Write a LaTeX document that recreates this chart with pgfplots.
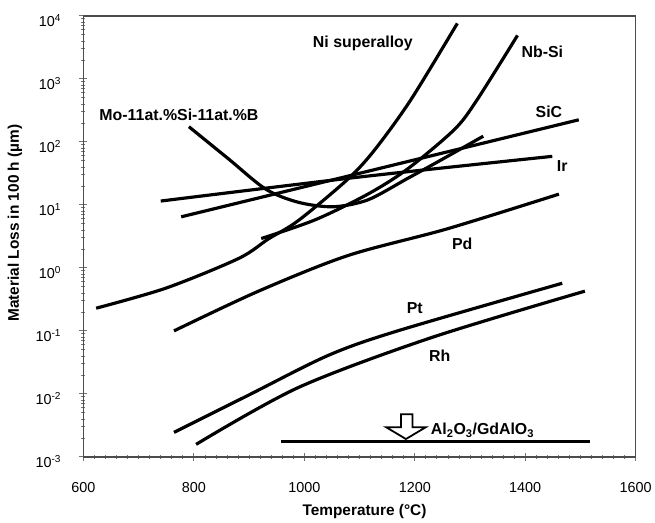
\documentclass[border=0pt]{standalone}
\usepackage{fontspec}
\setmainfont{Liberation Sans}
\usepackage{pgfplots}
\pgfplotsset{compat=1.18}

\begin{document}
\begin{tikzpicture}
\begin{axis}[
    width=556pt, height=444pt, scale only axis,
    xmin=600, xmax=1600,
    ymode=log, ymin=1e-3, ymax=1e4,
    xtick={600,800,1000,1200,1400,1600},
    xticklabels={600,800,1000,1200,1400,1600},
    minor x tick num=9,
    ytick={1e-3,1e-2,1e-1,1,10,100,1000,10000},
    yticklabels={10\textsuperscript{-3},10\textsuperscript{-2},10\textsuperscript{-1},10\textsuperscript{0},
                 10\textsuperscript{1},10\textsuperscript{2},10\textsuperscript{3},10\textsuperscript{4}},
    minor ytick={0.002,0.003,0.004,0.005,0.006,0.007,0.008,0.009,
                 0.02,0.03,0.04,0.05,0.06,0.07,0.08,0.09,
                 0.2,0.3,0.4,0.5,0.6,0.7,0.8,0.9,
                 2,3,4,5,6,7,8,9,
                 20,30,40,50,60,70,80,90,
                 200,300,400,500,600,700,800,900,
                 2000,3000,4000,5000,6000,7000,8000,9000},
    xtick pos=bottom, ytick pos=left,
    tick align=center,
    major tick length=8pt, minor tick length=4pt,
    axis line style={black!70, line width=1.4pt},
    every tick/.style={black!55, line width=0.8pt},
    tick label style={font=\fontsize{14.5}{16}\selectfont},
    xticklabel style={yshift=-18pt},
    yticklabel style={xshift=-15pt, yshift=-5pt},
    xlabel={Temperature (°C)},
    ylabel={Material Loss in 100 h (µm)},
    label style={font=\fontsize{15.5}{18}\selectfont\bfseries},
    xlabel style={at={(axis description cs:0.509,-0.125)}, anchor=center},
    ylabel style={at={(axis description cs:-0.124,0.53)}, anchor=center},
    clip=false,
]
% Ni superalloy
\addplot[black, line width=3.2pt, smooth] coordinates {
    (623,0.229) (750,0.479) (881,1.41) (935,2.88) (989,5.62)
    (1079,25.7) (1128,75.9) (1193,468) (1277,7586)};
% Nb-Si
\addplot[black, line width=3.2pt, smooth] coordinates {
    (922,2.92) (1020,5.81) (1115,14.8) (1187,37.2) (1272,158)
    (1313,468) (1386,4898)};
% Mo-11at.%Si-11at.%B
\addplot[black, line width=3.2pt, smooth] coordinates {
    (791,174) (863,53.4) (930,17.8) (989,11.0) (1052,9.33)
    (1115,12.0) (1187,26.3) (1241,47.9) (1324,123)};
% SiC
\addplot[black, line width=3.2pt] coordinates {(777,6.46) (1497,224)};
% Ir
\addplot[black, line width=3.2pt, smooth] coordinates {(740,11.5) (1097,27.5) (1449,58.9)};
% Pd
\addplot[black, line width=3.2pt, smooth] coordinates {
    (764,0.1) (917,0.427) (1079,1.57) (1259,4.17) (1461,14.8)};
% Pt
\addplot[black, line width=3.2pt, smooth] coordinates {
    (764,0.00245) (899,0.00955) (1043,0.0407) (1169,0.1) (1467,0.570)};
% Rh
\addplot[black, line width=3.2pt, smooth] coordinates {
    (804,0.00158) (989,0.0126) (1229,0.0776) (1508,0.427)};
% Al2O3/GdAlO3
\addplot[black, line width=3.2pt] coordinates {(958,0.00178) (1517,0.00178)};

% open arrow
\draw[black, line width=1.8pt, fill=white]
    (axis cs:1175,0.00475) -- (axis cs:1196,0.00475) -- (axis cs:1196,0.00296)
    -- (axis cs:1220,0.00296) -- (axis cs:1184,0.00192) -- (axis cs:1148,0.00296)
    -- (axis cs:1175,0.00296) -- cycle;

\begin{scope}[every node/.style={font=\fontsize{16}{18}\selectfont\bfseries, inner sep=0pt}]
\node at (axis cs:1106,3690) {Ni superalloy};
\node at (axis cs:1431,2660) {Nb-Si};
\node at (axis cs:1443,302) {SiC};
\node at (axis cs:1467,41.1) {Ir};
\node at (axis cs:1286,2.43) {Pd};
\node at (axis cs:1200,0.230) {Pt};
\node at (axis cs:1245,0.0404) {Rh};
\node at (axis cs:773,271) {Mo-11at.\%Si-11at.\%B};
\node[anchor=west] at (axis cs:1229,0.00266) {Al\textsubscript{2}O\textsubscript{3}/GdAlO\textsubscript{3}};
\end{scope}

% page size
\path (axis description cs:-0.1511,-0.1396) rectangle (axis description cs:1.027,1.036);
\end{axis}
\end{tikzpicture}
\end{document}
